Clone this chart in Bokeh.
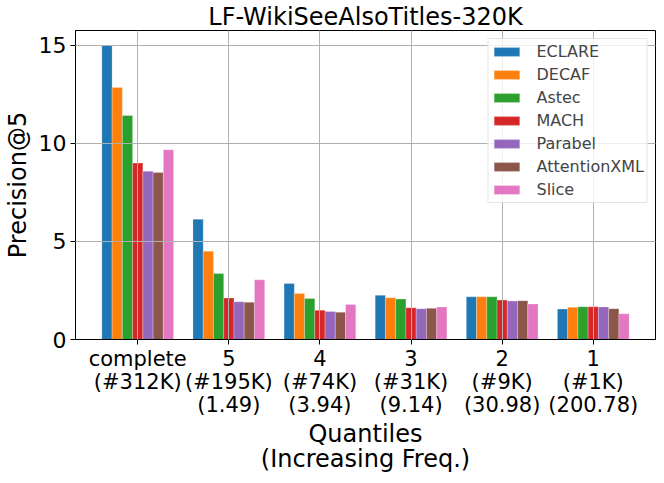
from bokeh.plotting import figure
from bokeh.embed import file_html
from bokeh.resources import INLINE
from bokeh.models import FixedTicker, ColumnDataSource
from bokeh.transform import dodge

title_text = "LF-WikiSeeAlsoTitles-320K"
quantile_labels = [
    "complete\n(#312K)",
    "5\n(#195K)\n(1.49)",
    "4\n(#74K)\n(3.94)",
    "3\n(#31K)\n(9.14)",
    "2\n(#9K)\n(30.98)",
    "1\n(#1K)\n(200.78)",
]
methods = ["ECLARE", "DECAF", "Astec", "MACH", "Parabel", "AttentionXML", "Slice"]
colors = ["#1f77b4", "#ff7f0e", "#2ca02c", "#d62728", "#9467bd", "#8c564b", "#e377c2"]

eclare = [15.00, 6.13, 2.85, 2.25, 2.18, 1.55]
decaf = [12.84, 4.50, 2.34, 2.13, 2.18, 1.64]
astec = [11.42, 3.36, 2.09, 2.06, 2.18, 1.67]
mach = [8.99, 2.12, 1.49, 1.62, 2.01, 1.67]
parabel = [8.58, 1.92, 1.43, 1.57, 1.96, 1.66]
attentionxml = [8.51, 1.90, 1.39, 1.59, 1.98, 1.57]
slice_ = [9.67, 3.04, 1.78, 1.66, 1.81, 1.31]

series = [eclare, decaf, astec, mach, parabel, attentionxml, slice_]
positions = list(range(len(quantile_labels)))

bar_w = 0.1125

data = {"x": positions}
for m, s in zip(methods, series):
    data[m] = s
source = ColumnDataSource(data)

p = figure(width=656, height=475, x_range=(-0.683, 5.683), y_range=(0, 15.75),
           output_backend="svg", toolbar_location=None, title=title_text)

for i, (m, c) in enumerate(zip(methods, colors)):
    off = (i - 3) * bar_w
    p.vbar(x=dodge("x", off), top=m, width=bar_w, source=source,
           fill_color=c, line_color="white", line_width=0.5, line_alpha=0.5,
           legend_label=m)

FONT = "DejaVu Sans"
p.title.text_font = FONT
p.title.text_font_size = "24px"
p.title.text_font_style = "normal"
p.title.align = "center"
p.title.text_color = "black"
p.title.standoff = 0
p.title.offset = 0
p.title.text_line_height = 0.9

p.xaxis.ticker = FixedTicker(ticks=positions)
p.xaxis.major_label_overrides = {i: lab for i, lab in enumerate(quantile_labels)}
p.yaxis.ticker = FixedTicker(ticks=[0, 5, 10, 15])
p.xaxis.axis_label = "Quantiles\n(Increasing Freq.)"
p.yaxis.axis_label = "Precision@5"

for ax in (p.xaxis, p.yaxis):
    ax.major_label_text_font = FONT
    ax.major_label_text_font_size = "22px"
    ax.major_label_text_color = "black"
    ax.axis_label_text_font = FONT
    ax.axis_label_text_font_size = "24px"
    ax.axis_label_text_font_style = "normal"
    ax.axis_label_text_color = "black"
    ax.axis_line_color = "black"
    ax.major_tick_line_color = "black"
    ax.major_tick_out = 5
    ax.major_tick_in = 0
    ax.minor_tick_line_color = None
    ax.major_label_standoff = 4
    ax.axis_label_standoff = 4

p.xaxis.major_label_text_font_size = "21px"
p.xaxis.major_label_standoff = 2
p.xaxis.major_label_text_line_height = 0.97
p.xaxis.axis_label_standoff = 0
p.xaxis.axis_label_text_line_height = 0.88

p.grid.grid_line_color = "#b0b0b0"
p.grid.grid_line_width = 1
p.grid.level = "guide"

p.outline_line_color = "black"
p.outline_line_alpha = 1
p.outline_line_width = 1

p.legend.location = "top_right"
p.legend.label_text_font = FONT
p.legend.label_text_font_size = "16px"
p.legend.glyph_width = 32
p.legend.glyph_height = 11
p.legend.label_height = 21
p.legend.spacing = 2
p.legend.padding = 2
p.legend.margin = 8
p.legend.label_standoff = 14
p.legend.border_line_color = "#cccccc"
p.legend.background_fill_alpha = 0.8

p.min_border_left = 69
p.min_border_right = 1
p.min_border_top = 0
p.min_border_bottom = 0

open("out.html", "w").write(file_html(p, INLINE))
